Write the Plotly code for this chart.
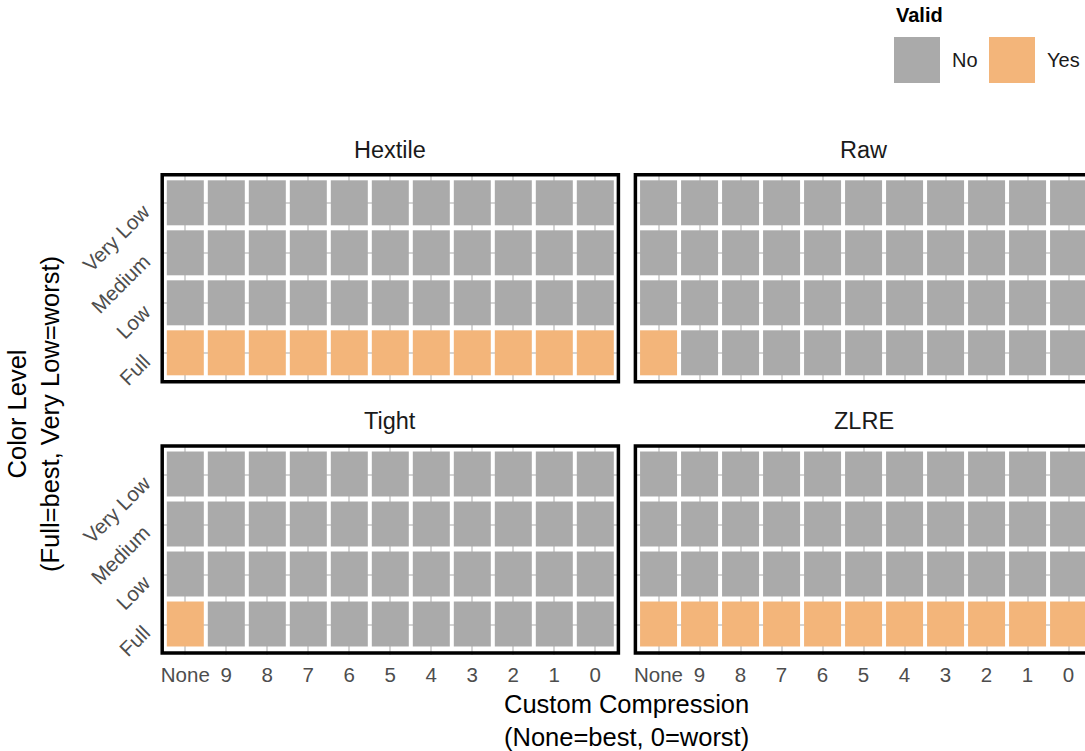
import plotly.graph_objects as go

# ---------------- data ----------------
compression = ["None", "9", "8", "7", "6", "5", "4", "3", "2", "1", "0"]
color_levels = ["Full", "Low", "Medium", "Very Low"]  # bottom -> top
encodings = ["Hextile", "Raw", "Tight", "ZLRE"]

# 1 = Yes (valid), 0 = No ; rows follow color_levels order
hextile_valid = [
    [1, 1, 1, 1, 1, 1, 1, 1, 1, 1, 1],
    [0, 0, 0, 0, 0, 0, 0, 0, 0, 0, 0],
    [0, 0, 0, 0, 0, 0, 0, 0, 0, 0, 0],
    [0, 0, 0, 0, 0, 0, 0, 0, 0, 0, 0],
]
raw_valid = [
    [1, 0, 0, 0, 0, 0, 0, 0, 0, 0, 0],
    [0, 0, 0, 0, 0, 0, 0, 0, 0, 0, 0],
    [0, 0, 0, 0, 0, 0, 0, 0, 0, 0, 0],
    [0, 0, 0, 0, 0, 0, 0, 0, 0, 0, 0],
]
tight_valid = [
    [1, 0, 0, 0, 0, 0, 0, 0, 0, 0, 0],
    [0, 0, 0, 0, 0, 0, 0, 0, 0, 0, 0],
    [0, 0, 0, 0, 0, 0, 0, 0, 0, 0, 0],
    [0, 0, 0, 0, 0, 0, 0, 0, 0, 0, 0],
]
zlre_valid = [
    [1, 1, 1, 1, 1, 1, 1, 1, 1, 1, 1],
    [0, 0, 0, 0, 0, 0, 0, 0, 0, 0, 0],
    [0, 0, 0, 0, 0, 0, 0, 0, 0, 0, 0],
    [0, 0, 0, 0, 0, 0, 0, 0, 0, 0, 0],
]

legend_title = "Valid"
legend_labels = ["No", "Yes"]
legend_colors = ["#AAAAAA", "#F3B57A"]

x_title = "Custom Compression<br>(None=best, 0=worst)"
y_title = "Color Level<br>(Full=best, Very Low=worst)"

# ---------------- layout helpers ----------------
W, H = 1085, 751
FONT = "Liberation Sans, Arial, Helvetica, sans-serif"


def fx(px):
    return px / W


def fy(py):
    return 1 - py / H


# panel pixel extents
LEFT = (160.7, 619.9)
RIGHT = (633.9, 1093.1)
TOP = (173.3, 383.3)
BOTTOM = (444.5, 654.5)
SPACING_X = 41.0

panels = [
    (hextile_valid, LEFT, TOP),
    (raw_valid, RIGHT, TOP),
    (tight_valid, LEFT, BOTTOM),
    (zlre_valid, RIGHT, BOTTOM),
]

colorscale = [[0, legend_colors[0]], [0.5, legend_colors[0]],
              [0.5, legend_colors[1]], [1, legend_colors[1]]]

fig = go.Figure()
layout = dict(
    width=W, height=H,
    margin=dict(l=0, r=0, t=0, b=0),
    paper_bgcolor="white", plot_bgcolor="white",
    showlegend=False,
    font=dict(family=FONT, color="#4D4D4D"),
)
shapes = []
annotations = []

for i, (z, (xl, xr), (yt, yb)) in enumerate(panels):
    n = i + 1
    xa = "x" if n == 1 else f"x{n}"
    ya = "y" if n == 1 else f"y{n}"
    fig.add_trace(go.Heatmap(
        z=z, x=compression, y=color_levels,
        colorscale=colorscale, zmin=0, zmax=1, showscale=False,
        xgap=4, ygap=5, xaxis=xa, yaxis=ya, hoverinfo="skip",
    ))
    x_end = min(xr, W)
    xrange = [-0.6, -0.6 + (x_end - xl) / SPACING_X]
    is_bottom = yb > 500
    is_left = xl < 300
    layout["xaxis" if n == 1 else f"xaxis{n}"] = dict(
        domain=[fx(xl), fx(x_end)], anchor=ya, type="category",
        range=xrange, showgrid=True, gridcolor="#D4D4D4", gridwidth=1.5,
        zeroline=False, showline=False, ticks="",
        showticklabels=is_bottom, tickfont=dict(size=20.5, color="#4D4D4D", family=FONT),
        ticklabelstandoff=6, fixedrange=True,
    )
    layout["yaxis" if n == 1 else f"yaxis{n}"] = dict(
        domain=[fy(yb), fy(yt)], anchor=xa, type="category",
        range=[-0.6, 3.6], showgrid=True, gridcolor="#D4D4D4", gridwidth=1.5,
        zeroline=False, showline=False, ticks="",
        showticklabels=False, fixedrange=True,
    )
    # rotated y tick labels (ggplot-style angle=45, hjust=1)
    if is_left:
        for lev in color_levels:
            annotations.append(dict(
                text=lev, xref="paper", yref=ya, x=fx(156), y=lev,
                xanchor="right", yanchor="top", yshift=5, textangle=-45,
                showarrow=False, borderpad=0,
                font=dict(size=20.5, color="#4D4D4D", family=FONT),
            ))
    # panel border
    shapes.append(dict(
        type="rect", xref="paper", yref="paper",
        x0=fx(xl + 1.5), x1=fx(xr - 1.5), y0=fy(yb - 1.5), y1=fy(yt + 1.5),
        line=dict(color="black", width=3.5), fillcolor="rgba(0,0,0,0)", layer="above",
    ))
    # strip title
    annotations.append(dict(
        text=encodings[i], xref="paper", yref="paper",
        x=fx((xl + xr) / 2), y=fy(yt - 23.5), xanchor="center", yanchor="middle",
        showarrow=False, font=dict(size=23.5, color="#1A1A1A", family=FONT),
    ))

# axis titles
annotations.append(dict(
    text=x_title, xref="paper", yref="paper", x=fx(626), y=fy(720),
    xanchor="center", yanchor="middle", showarrow=False,
    font=dict(size=25.5, color="black", family=FONT),
))
annotations.append(dict(
    text=y_title, xref="paper", yref="paper", x=fx(33), y=fy(414),
    xanchor="center", yanchor="middle", showarrow=False, textangle=-90,
    font=dict(size=25.5, color="black", family=FONT),
))

# legend (drawn manually)
annotations.append(dict(
    text="<b>" + legend_title + "</b>", xref="paper", yref="paper",
    x=fx(894), y=fy(15), xanchor="left", yanchor="middle", showarrow=False,
    font=dict(size=20, color="black", family=FONT),
))
key_x = [894, 989]
for lab, col, kx in zip(legend_labels, legend_colors, key_x):
    shapes.append(dict(
        type="rect", xref="paper", yref="paper",
        x0=fx(kx), x1=fx(kx + 46), y0=fy(83), y1=fy(37),
        line=dict(width=0), fillcolor=col,
    ))
    annotations.append(dict(
        text=lab, xref="paper", yref="paper", x=fx(kx + 56), y=fy(60),
        xanchor="left", yanchor="middle", showarrow=False,
        font=dict(size=20, color="#1A1A1A", family=FONT),
    ))

layout["shapes"] = shapes
layout["annotations"] = annotations
fig.update_layout(**layout)
fig.write_html(
    "out.html",
    config={"displayModeBar": False},
    post_script="document.body.style.margin='0';document.body.style.overflow='hidden';",
)
